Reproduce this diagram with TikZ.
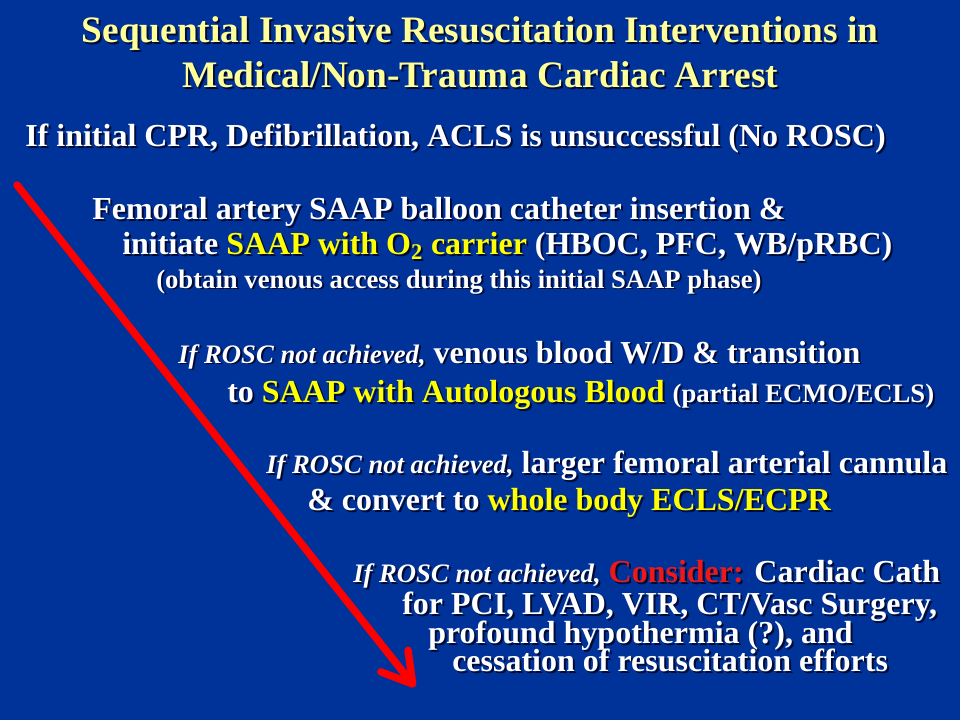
\documentclass[tikz,border=0pt]{standalone}
\usepackage{fontspec}
\setmainfont{Liberation Serif}
\usetikzlibrary{arrows.meta}

\definecolor{slideblue}{RGB}{0,51,153}
\definecolor{titleyellow}{RGB}{255,255,153}
\definecolor{hiyellow}{RGB}{255,255,0}
\definecolor{hired}{RGB}{235,25,25}
\definecolor{arrowred}{RGB}{255,0,0}
\definecolor{shadowcol}{RGB}{0,10,50}

\def\hicol{hiyellow}
\def\redcol{hired}
\newcommand\hi[1]{{\color{\hicol}#1}}
\newcommand\rd[1]{{\color{\redcol}#1}}
\newcommand\shd[1]{\makebox[0pt][l]{\kern1.5pt\raisebox{-1.5pt}{\color{shadowcol}\def\hicol{shadowcol}\def\redcol{shadowcol}#1}}#1}
\newcommand\notach{{\itshape\fontsize{20}{24}\selectfont If ROSC not achieved,}}
\newcommand\smalltext[1]{{\fontsize{20}{24}\selectfont #1}}

\begin{document}
\begin{tikzpicture}[x=0.75pt, y=-0.75pt,
	 line/.style = {anchor = base west, inner sep = 0pt, text = white, font = \bfseries\fontsize{24}{28}\selectfont},
	 title/.style = {anchor = base, inner sep = 0pt, text = titleyellow, font = \bfseries\fontsize{28}{32}\selectfont},
	 redarrow/.style = {draw = arrowred, line width = 5.6pt, line cap = round, -{Straight Barb[length = 22pt, width = 26pt, round]}}]
	 \useasboundingbox (0, 0) rectangle (960, 720);
	 \fill[slideblue] (0, 0) rectangle (960, 720);
	 
	 \node[title] (title1) at (480, 43) {\shd{Sequential Invasive Resuscitation Interventions in}};
	 \node[title] (title2) at (480, 88) {\shd{Medical/Non-Trauma Cardiac Arrest}};
	 
	 \node[line] (intro) at (25, 147) {\shd{If initial CPR, Defibrillation, ACLS is unsuccessful (No ROSC)}};
	 
	 \node[line] (saap1) at (92, 220) {\shd{Femoral artery SAAP balloon catheter insertion \&}};
	 \node[line] (saap2) at (122, 255) {\shd{initiate \hi{SAAP with O\textsubscript{2} carrier} (HBOC, PFC, WB/pRBC)}};
	 \node[line] (saap3) at (156, 288) {\shd{\smalltext{(obtain venous access during this initial SAAP phase)}}};
	 
	 \node[line] (auto1) at (178, 363) {\shd{\notach{} venous blood W/D \& transition}};
	 \node[line] (auto2) at (227, 402) {\shd{to \hi{SAAP with Autologous Blood} \smalltext{(partial ECMO/ECLS)}}};
	 
	 \node[line] (ecls1) at (266, 473) {\shd{\notach{} larger femoral arterial cannula}};
	 \node[line] (ecls2) at (307, 510) {\shd{\& convert to \hi{whole body ECLS/ECPR}}};
	 
	 \node[line] (cons1) at (353, 582) {\shd{\notach{} \rd{Consider:} Cardiac Cath}};
	 \node[line] (cons2) at (402, 614) {\shd{for PCI, LVAD, VIR, CT/Vasc Surgery,}};
	 \node[line] (cons3) at (428, 643) {\shd{profound hypothermia (?), and}};
	 \node[line] (cons4) at (452, 671) {\shd{cessation of resuscitation efforts}};
	 
	 \coordinate (arrowstart) at (17, 185);
	 \coordinate (arrowtip) at (415, 687);
	 \draw[redarrow] (arrowstart) -- (arrowtip);
\end{tikzpicture}
\end{document}
